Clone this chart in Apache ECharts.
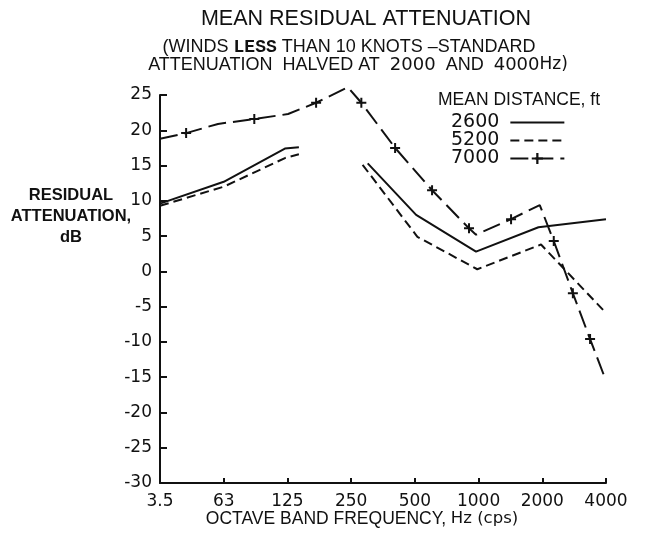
<!DOCTYPE html>
<html>
<head>
<meta charset="utf-8">
<script src="https://cdn.jsdelivr.net/npm/echarts@6/dist/echarts.min.js"></script>
<style>
  html, body { margin: 0; padding: 0; background: #fff; }
  #chart { width: 645px; height: 536px; }
</style>
</head>
<body>
<div id="chart"></div>
<script>
// Octave band tick labels (x = band index, fractional values fall between bands)
const bandLabels = ['3.5', '63', '125', '250', '500', '1000', '2000', '4000'];
const yTicks = { min: -30, max: 25, step: 5 };

// Mean distance 2600 ft (null = break in the curve)
const d2600X = [0, 1, 1.96, 2.18, 2.7, 3.26, 4.02, 4.96, 5.94, 7.0];
const d2600Y = [9.6, 12.7, 17.4, 17.6, null, 15.3, 8.0, 2.8, 6.25, 7.4];

// Mean distance 5200 ft
const d5200X = [0, 1, 1.97, 2.18, 2.7, 3.18, 4.04, 4.98, 5.98, 7.0];
const d5200Y = [9.3, 12.0, 16.1, 16.6, null, 15.1, 4.9, 0.3, 3.8, -5.9];

// Mean distance 7000 ft, with the points that carry a "+" mark
const d7000X = [0, 0.41, 0.91, 1.48, 2.01, 2.45, 2.95, 3.16, 3.69, 4.27, 4.85, 4.96, 5.51, 5.96, 6.18, 6.48, 6.75, 7.0];
const d7000Y = [18.8, 19.6, 20.9, 21.6, 22.3, 23.9, 26.1, 23.9, 17.5, 11.5, 6.1, 5.2, 7.4, 9.4, 4.3, -3.1, -9.6, -15.5];
const d7000Mark = [0, 1, 0, 1, 0, 1, 0, 1, 1, 1, 1, 0, 1, 0, 1, 1, 1, 0];

const seriesNames = ['2600', '5200', '7000'];

const INK = '#111';
const SANS = '"Liberation Sans", Arial, sans-serif';
const ROUND = '"DejaVu Sans", sans-serif';
const PLUS = 'path://M4,0H6V4H10V6H6V10H4V6H0V4H4Z';

const pairs = (xs, ys) => xs.map((x, i) => [x, ys[i]]);

const chart = echarts.init(document.getElementById('chart'), null, { renderer: 'canvas' });

chart.setOption({
  animation: false,
  backgroundColor: '#fff',
  grid: { left: 160, right: 39, top: 95, bottom: 53, containLabel: false },
  xAxis: {
    type: 'value',
    min: 0,
    max: bandLabels.length - 1,
    interval: 1,
    splitLine: { show: false },
    axisLine: { onZero: false, lineStyle: { color: INK, width: 2 } },
    axisTick: { inside: true, length: 5, lineStyle: { color: INK, width: 2 } },
    axisLabel: {
      margin: 10,
      color: INK,
      fontFamily: ROUND,
      fontSize: 17,
      formatter: v => bandLabels[Math.round(v)] ?? ''
    }
  },
  yAxis: {
    type: 'value',
    min: yTicks.min,
    max: yTicks.max,
    interval: yTicks.step,
    splitLine: { show: false },
    axisLine: { onZero: false, lineStyle: { color: INK, width: 2 } },
    axisTick: { inside: true, length: 7, lineStyle: { color: INK, width: 2 } },
    axisLabel: {
      margin: 8,
      color: INK,
      fontFamily: ROUND,
      fontSize: 17,
      formatter: v => String(v)
    }
  },
  legend: {
    data: [
      { name: '2600', itemStyle: { opacity: 0 } },
      { name: '5200', itemStyle: { opacity: 0 } },
      { name: '7000' }
    ],
    orient: 'vertical',
    left: 446,
    top: 108,
    align: 'right',
    itemWidth: 54,
    itemHeight: 14,
    itemGap: -1,
    selectedMode: false,
    textStyle: { color: INK, fontFamily: ROUND, fontSize: 19, lineHeight: 18, padding: [0, 6, 0, 0] }
  },
  series: [
    {
      name: '2600',
      type: 'line',
      clip: false,
      symbol: 'none',
      connectNulls: false,
      lineStyle: { color: INK, width: 2 },
      itemStyle: { color: INK },
      data: pairs(d2600X, d2600Y)
    },
    {
      name: '5200',
      type: 'line',
      clip: false,
      symbol: 'none',
      connectNulls: false,
      lineStyle: { color: INK, width: 2, type: [9, 5] },
      itemStyle: { color: INK },
      data: pairs(d5200X, d5200Y)
    },
    {
      name: '7000',
      type: 'line',
      clip: false,
      symbol: PLUS,
      symbolSize: 10,
      showSymbol: true,
      lineStyle: { color: INK, width: 2, type: [18, 7] },
      itemStyle: { color: INK, borderWidth: 0 },
      data: d7000X.map((x, i) => ({
        value: [x, d7000Y[i]],
        symbol: d7000Mark[i] ? PLUS : 'none'
      }))
    }
  ],
  graphic: [
    {
      type: 'text',
      style: {
        text: 'MEAN RESIDUAL ATTENUATION',
        x: 366, y: 19,
        textAlign: 'center', textVerticalAlign: 'middle',
        font: '21.5px ' + SANS, fill: INK
      }
    },
    {
      type: 'text',
      style: {
        text: '(WINDS {b|LESS} THAN 10 KNOTS \u2013STANDARD',
        x: 349, y: 47,
        textAlign: 'center', textVerticalAlign: 'middle',
        font: '18px ' + SANS, fill: INK,
        rich: { b: { fontFamily: '"Liberation Mono", monospace', fontWeight: 'bold', fontSize: 18, fill: INK } }
      }
    },
    {
      type: 'text',
      style: {
        text: 'ATTENUATION  HALVED AT  {n|2000}  AND  {n|4000}{h|Hz)}',
        x: 358, y: 65,
        textAlign: 'center', textVerticalAlign: 'middle',
        font: '18px ' + SANS, fill: INK,
        rich: {
          n: { fontFamily: ROUND, fontSize: 18, fill: INK },
          h: { fontFamily: ROUND, fontSize: 17, fill: INK }
        }
      }
    },
    {
      type: 'text',
      style: {
        text: 'RESIDUAL\nATTENUATION,\ndB',
        x: 71, y: 216,
        textAlign: 'center', textVerticalAlign: 'middle',
        font: 'bold 16.5px ' + SANS, fill: INK, lineHeight: 21
      }
    },
    {
      type: 'text',
      style: {
        text: 'MEAN DISTANCE, ft',
        x: 438, y: 100,
        textAlign: 'left', textVerticalAlign: 'middle',
        font: '17.5px ' + SANS, fill: INK
      }
    },
    {
      type: 'text',
      style: {
        text: 'OCTAVE BAND FREQUENCY, {h|Hz (cps)}',
        x: 362, y: 519,
        textAlign: 'center', textVerticalAlign: 'middle',
        font: '17.5px ' + SANS, fill: INK,
        rich: { h: { fontFamily: ROUND, fontSize: 16.5, fill: INK } }
      }
    }
  ]
});
</script>
</body>
</html>
